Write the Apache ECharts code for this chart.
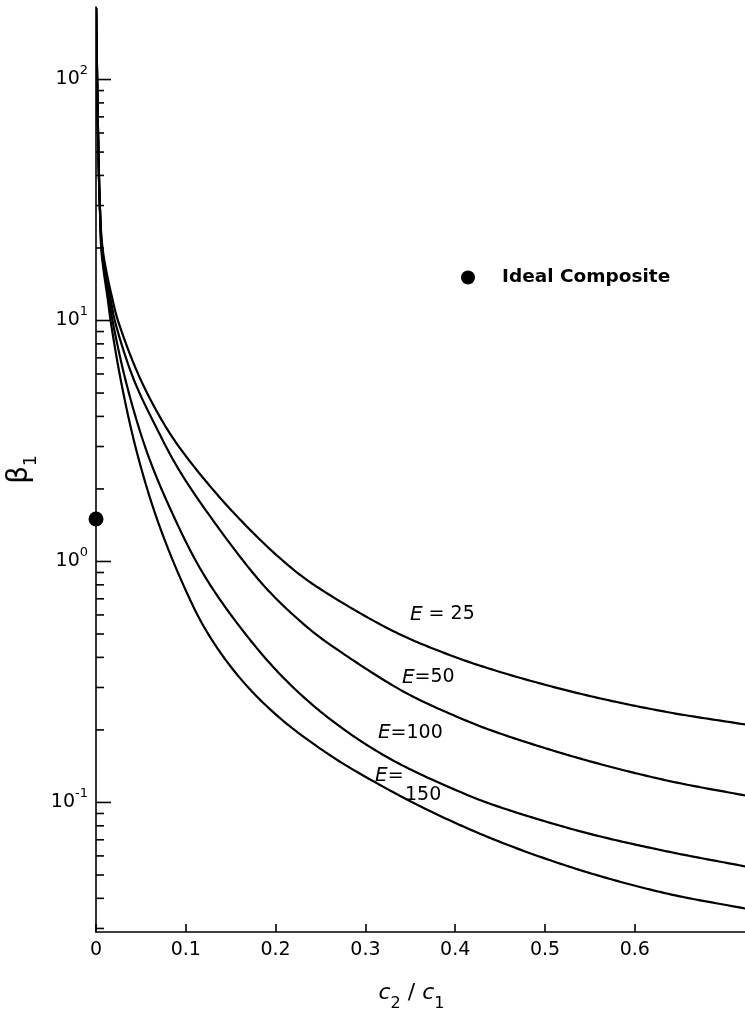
<!DOCTYPE html>
<html><head><meta charset="utf-8">
<script src="https://cdn.jsdelivr.net/npm/echarts@6/dist/echarts.min.js"></script>
<style>html,body{margin:0;padding:0;background:#fff}#c{width:745px;height:1014px}</style>
</head><body><div id="c"></div>
<script>
// ---- data ----
const xTickValues = [0, 0.1, 0.2, 0.3, 0.4, 0.5, 0.6];
const yMajorTicks = [0.1, 1, 10, 100];
const yMinorTicks = [0.03, 0.04, 0.05, 0.06, 0.07, 0.08, 0.09,
                     0.2, 0.3, 0.4, 0.5, 0.6, 0.7, 0.8, 0.9,
                     2, 3, 4, 5, 6, 7, 8, 9,
                     20, 30, 40, 50, 60, 70, 80, 90];

const E25 = [[0.0002,197],[0.0013,99],[0.0027,50.3],[0.0043,29.7],[0.0078,19.3],[0.0189,12.0],[0.0248,9.9],
  [0.0490,5.76],[0.0787,3.57],[0.1047,2.60],[0.1418,1.774],[0.1790,1.270],[0.2049,1.032],[0.2383,0.821],
  [0.3274,0.522],[0.3905,0.4136],[0.4499,0.348],[0.5427,0.2806],[0.6355,0.2374],[0.7227,0.2107]];
const E50 = [[0.0002,197],[0.0013,99],[0.0027,50.3],[0.0043,29.7],[0.0072,19.3],[0.0167,12.0],[0.0212,9.9],
  [0.0415,5.76],[0.0676,3.57],[0.0935,2.363],[0.1344,1.411],[0.1790,0.858],[0.2049,0.676],[0.2383,0.522],
  [0.2606,0.452],[0.3422,0.2888],[0.4090,0.2211],[0.4499,0.1933],[0.5427,0.1508],[0.6355,0.1234],[0.7227,0.1069]];
const E100 = [[0.0002,197],[0.0013,99],[0.0027,50.3],[0.0043,29.7],[0.0067,19.3],[0.0150,12.0],[0.0186,9.9],
  [0.0342,5.41],[0.0565,2.86],[0.0824,1.664],[0.1158,0.938],[0.1529,0.582],[0.2049,0.3405],[0.2606,0.2217],
  [0.3274,0.1518],[0.4090,0.1092],[0.4499,0.0956],[0.5427,0.0753],[0.6355,0.0627],[0.7227,0.0543]];
const E150 = [[0.0002,197],[0.0013,99],[0.0027,50.3],[0.0043,29.7],[0.0061,19.3],[0.0134,12.0],[0.0164,9.9],
  [0.0286,5.41],[0.0453,2.86],[0.0676,1.512],[0.0972,0.800],[0.1233,0.512],[0.1604,0.328],[0.2049,0.2238],
  [0.2606,0.1570],[0.3088,0.1225],[0.3719,0.0921],[0.4499,0.0686],[0.5427,0.0519],[0.6355,0.0419],[0.7227,0.0363]];
const idealComposite = [[0, 1.5]];

const curveNames = ['E=25', 'E=50', 'E=100', 'E=150'];
const curveLabels = ['{e|E}{n| = 25}', '{e|E}{n|=50}', '{e|E}{n|=100}', '{e|E}{n|=}\n{p|150}'];
const labelAnchors = [[0.3496, 0.603], [0.3407, 0.330], [0.3140, 0.194], [0.3107, 0.1176]];

// ---- chart ----
const FONT = 'DejaVu Sans';
const chart = echarts.init(document.getElementById('c'), null, {renderer: 'canvas'});

// centripetal Catmull-Rom through the pixel positions given by the axes
function splinePath(P) {
  const dist = (a, b) => Math.hypot(a[0] - b[0], a[1] - b[1]);
  const out = [P[0].slice()];
  for (let i = 0; i < P.length - 1; i++) {
    const p1 = P[i], p2 = P[i + 1];
    const p0 = i > 0 ? P[i - 1] : [2 * p1[0] - p2[0], 2 * p1[1] - p2[1]];
    const p3 = i < P.length - 2 ? P[i + 2] : [2 * p2[0] - p1[0], 2 * p2[1] - p1[1]];
    const d1 = Math.sqrt(dist(p0, p1)), d2 = Math.sqrt(dist(p1, p2)), d3 = Math.sqrt(dist(p2, p3));
    let b1, b2;
    if (d1 < 1e-6 || d2 < 1e-6) b1 = [p1[0] + (p2[0] - p1[0]) / 3, p1[1] + (p2[1] - p1[1]) / 3];
    else b1 = [0, 1].map(k => (d1 * d1 * p2[k] - d2 * d2 * p0[k] + (2 * d1 * d1 + 3 * d1 * d2 + d2 * d2) * p1[k]) / (3 * d1 * (d1 + d2)));
    if (d3 < 1e-6 || d2 < 1e-6) b2 = [p2[0] - (p2[0] - p1[0]) / 3, p2[1] - (p2[1] - p1[1]) / 3];
    else b2 = [0, 1].map(k => (d3 * d3 * p1[k] - d2 * d2 * p3[k] + (2 * d3 * d3 + 3 * d3 * d2 + d2 * d2) * p2[k]) / (3 * d3 * (d3 + d2)));
    const steps = Math.max(4, Math.ceil(dist(p1, p2) / 3));
    for (let s = 1; s <= steps; s++) {
      const t = s / steps, u = 1 - t;
      const a = u * u * u, b = 3 * u * u * t, c = 3 * u * t * t, d = t * t * t;
      out.push([a * p1[0] + b * b1[0] + c * b2[0] + d * p2[0], a * p1[1] + b * b1[1] + c * b2[1] + d * p2[1]]);
    }
  }
  return out;
}

function curveSeries(arr, i) {
  return {
    type: 'custom', name: curveNames[i], data: arr, encode: {x: 0, y: 1},
    clip: true, silent: true, z: 3, animation: false,
    renderItem(params, api) {
      if (params.dataIndex !== 0) return null;
      const pts = arr.map(d => api.coord(d));
      return {type: 'polyline', shape: {points: splinePath(pts)},
              style: {stroke: '#000', lineWidth: 2.2, fill: null, lineJoin: 'round', lineCap: 'round'}};
    }
  };
}

function tickSeries(values, len) {
  return {
    type: 'custom', silent: true, z: 6, clip: false, animation: false,
    data: values.map(v => [0, v]),
    encode: {x: 0, y: 1},
    renderItem(params, api) {
      const p = api.coord([0, api.value(1)]);
      return {type: 'line', shape: {x1: p[0], y1: p[1], x2: p[0] + len, y2: p[1]},
              style: {stroke: '#000', lineWidth: 1.6}};
    }
  };
}

function expLabel(v) {
  const e = Math.log10(v);
  const r = Math.round(e);
  if (Math.abs(e - r) > 1e-6) return '';
  return '{b|10}{s|' + r + '}';
}

chart.setOption({
  animation: false,
  backgroundColor: '#fff',
  grid: {left: 96, right: 0, top: 7, bottom: 82, containLabel: false, outerBoundsMode: 'none'},
  legend: {
    data: [{name: 'Ideal Composite', icon: 'circle'}],
    left: 456, top: 263, itemWidth: 58, itemHeight: 14, selectedMode: false,
    itemStyle: {color: '#000', opacity: 1},
    textStyle: {fontFamily: FONT, fontSize: 18.5, fontWeight: 'bold', color: '#000'}
  },
  xAxis: {
    type: 'value', min: 0, max: 0.7227,
    name: '{i|c}{sub|2}{n| / }{i|c}{sub|1}', nameLocation: 'middle', nameGap: 50,
    nameTextStyle: {
      padding: [0, 18, 0, 0],
      rich: {
        i: {fontFamily: FONT, fontStyle: 'italic', fontSize: 22, color: '#000'},
        n: {fontFamily: FONT, fontSize: 22, color: '#000'},
        sub: {fontFamily: FONT, fontSize: 16, color: '#000', verticalAlign: 'bottom', lineHeight: 14, padding: [0, 0, -8, 0]}
      }
    },
    axisLine: {show: true, lineStyle: {color: '#000', width: 1.6}},
    axisTick: {show: true, inside: true, length: 8, lineStyle: {color: '#000', width: 1.6}, customValues: xTickValues},
    axisLabel: {show: true, margin: 9, color: '#000', fontFamily: FONT, fontSize: 19, customValues: xTickValues,
                formatter: v => String(Math.round(v * 10) / 10)},
    splitLine: {show: false}
  },
  yAxis: {
    type: 'log', logBase: 10, min: 0.029, max: 200,
    name: '{g|β}{sub|1}', nameLocation: 'middle', nameGap: 58, nameRotate: 90,
    nameTextStyle: {
      rich: {
        g: {fontFamily: FONT, fontSize: 28, color: '#000'},
        sub: {fontFamily: FONT, fontSize: 17, color: '#000', verticalAlign: 'bottom', lineHeight: 14, padding: [0, 0, -6, 0]}
      }
    },
    axisLine: {show: true, lineStyle: {color: '#000', width: 1.6}},
    axisTick: {show: false},
    axisLabel: {
      show: true, margin: 8, color: '#000', formatter: expLabel,
      rich: {
        b: {fontFamily: FONT, fontSize: 19, color: '#000', lineHeight: 30},
        s: {fontFamily: FONT, fontSize: 13, color: '#000', lineHeight: 13, verticalAlign: 'top'}
      }
    },
    splitLine: {show: false},
    minorTick: {show: false}, minorSplitLine: {show: false}
  },
  series: [
    curveSeries(E25, 0), curveSeries(E50, 1), curveSeries(E100, 2), curveSeries(E150, 3),
    {
      type: 'scatter', name: 'curve labels', silent: true, z: 8, animation: false, clip: false,
      symbol: 'circle', symbolSize: 1, itemStyle: {color: 'rgba(0,0,0,0)', opacity: 1},
      data: labelAnchors.map((c, i) => ({value: c, label: {formatter: curveLabels[i]}})),
      label: {
        show: true, position: 'inside', align: 'left', verticalAlign: 'middle', color: '#000',
        rich: {
          e: {fontFamily: FONT, fontStyle: 'italic', fontSize: 20, color: '#000'},
          n: {fontFamily: FONT, fontSize: 19, color: '#000'},
          p: {fontFamily: FONT, fontSize: 19, color: '#000', padding: [0, 0, 0, 30]}
        }
      }
    },
    tickSeries(yMajorTicks, 15),
    tickSeries(yMinorTicks, 8),
    {
      type: 'scatter', name: 'Ideal Composite', data: idealComposite, symbol: 'circle', symbolSize: 15,
      itemStyle: {color: '#000', opacity: 1}, clip: false, z: 10, silent: true, animation: false
    }
  ]
});
</script>
</body></html>
